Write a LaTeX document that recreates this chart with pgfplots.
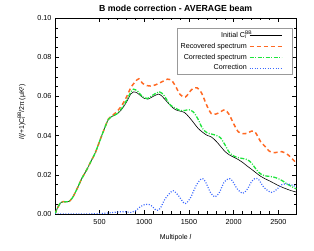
\documentclass[border=0pt]{standalone}
\usepackage{pgfplots}
\pgfplotsset{compat=1.18}
\usepackage{fontspec}
\setmainfont{Liberation Sans}
\definecolor{recred}{RGB}{255,105,35}
\definecolor{corgreen}{RGB}{30,228,60}
\definecolor{corblue}{RGB}{60,105,255}
\begin{document}
\begin{tikzpicture}
\useasboundingbox (0,0) rectangle (314bp,251bp);
\begin{axis}[
  at={(55bp,37bp)}, anchor=south west,
  scale only axis, width=241.3bp, height=196bp,
  xmin=2, xmax=2700, ymin=0, ymax=0.1,
  xtick={500,1000,1500,2000,2500},
  ytick={0,0.02,0.04,0.06,0.08,0.10},
  minor x tick num=4, minor y tick num=3,
  tick align=inside,
  major tick length=4bp, minor tick length=2.5bp,
  tick style={black, line width=0.5pt},
  axis line style={line width=0.6pt},
  /pgf/number format/assume math mode=true,
  /pgf/number format/set thousands separator={},
  yticklabel style={/pgf/number format/fixed, /pgf/number format/fixed zerofill, /pgf/number format/precision=2},
  scaled y ticks=false,
  ticklabel style={font=\fontsize{7.3}{8}\selectfont},
  xticklabel style={yshift=-2bp},
  title={\bfseries B mode correction - AVERAGE beam},
  title style={font=\fontsize{8.8}{10}\selectfont, at={(0.5,1)}, anchor=base, yshift=0.6bp, inner sep=0pt},
  xlabel={Multipole \textit{l}},
  xlabel style={font=\fontsize{7}{8}\selectfont, at={(0.5,0)}, anchor=north, yshift=-16.5bp},
  ylabel={\textit{l}(\textit{l}+1)C\rlap{\textsuperscript{BB}}\textsubscript{\textit{l}}\hspace{0.6em}/2π (μK²)},
  ylabel style={font=\fontsize{7}{8}\selectfont, at={(0,0.52)}, anchor=south, yshift=26bp},
  legend style={at={(0.982,0.95)}, anchor=north east, font=\fontsize{7.2}{8}\selectfont,
    draw=black!40, line width=0.4pt, inner xsep=1.5pt, inner ysep=1.2pt, row sep=0.1pt},
  legend cell align=right,
  legend plot pos=right,
  legend image code/.code={\draw[#1, draw=.] (0bp,0bp) -- (32bp,0bp); \path (40bp,0bp);},
]
\addplot[black, line width=0.6pt, smooth] coordinates {
(2,0) (30,0.003) (60,0.0055) (90,0.0063) (130,0.0062) (160,0.0064) (200,0.0085) (250,0.013) (300,0.018) (350,0.022) (400,0.0265) (450,0.031) (500,0.037) (550,0.043) (600,0.0483) (650,0.050) (700,0.0512) (750,0.0535) (800,0.057) (850,0.0613) (880,0.0623) (920,0.0618) (960,0.0603) (1000,0.059) (1040,0.0586) (1100,0.0600) (1160,0.0612) (1200,0.0600) (1250,0.0575) (1300,0.055) (1350,0.0532) (1400,0.0525) (1450,0.0518) (1500,0.0495) (1550,0.0467) (1600,0.0438) (1650,0.0418) (1700,0.0402) (1750,0.0393) (1800,0.0373) (1850,0.0347) (1900,0.032) (1950,0.0302) (2000,0.029) (2050,0.0278) (2100,0.0263) (2150,0.0245) (2200,0.0228) (2250,0.021) (2300,0.0193) (2350,0.018) (2400,0.0169) (2450,0.0157) (2500,0.0145) (2550,0.0135) (2600,0.0126) (2650,0.0118) (2700,0.0112)
};
\addlegendentry{Initial C\rlap{\textsuperscript{BB}}\textsubscript{\textit{l}}\hspace{0.6em}}
\addplot[recred, line width=1.5pt, dash pattern=on 4bp off 3bp, smooth] coordinates {
(2,0) (30,0.003) (60,0.0055) (90,0.0063) (130,0.0062) (160,0.0064) (200,0.0085) (250,0.013) (300,0.018) (350,0.022) (400,0.0265) (450,0.031) (500,0.037) (550,0.043) (600,0.0485) (650,0.0505) (700,0.0525) (750,0.0555) (800,0.0595) (850,0.0645) (900,0.0675) (940,0.069) (980,0.0667) (1030,0.0655) (1070,0.0653) (1120,0.0658) (1200,0.0675) (1260,0.0688) (1300,0.0685) (1350,0.0652) (1400,0.061) (1460,0.0597) (1530,0.0635) (1590,0.0644) (1640,0.0618) (1700,0.0553) (1750,0.0512) (1800,0.051) (1850,0.052) (1900,0.0532) (1950,0.0507) (2000,0.046) (2050,0.042) (2100,0.041) (2150,0.0412) (2200,0.0423) (2240,0.0418) (2300,0.037) (2350,0.0345) (2400,0.032) (2460,0.0313) (2540,0.0318) (2610,0.0301) (2700,0.026)
};
\addlegendentry{Recovered spectrum}
\addplot[corgreen, line width=1.3pt, dash pattern=on 4bp off 1.5bp on 1bp off 1.5bp, smooth] coordinates {
(2,0) (30,0.003) (60,0.0055) (90,0.0063) (130,0.0062) (160,0.0064) (200,0.0085) (250,0.013) (300,0.018) (350,0.022) (400,0.0265) (450,0.031) (500,0.037) (550,0.043) (600,0.0483) (650,0.050) (700,0.0513) (750,0.054) (800,0.0578) (850,0.0622) (880,0.0637) (930,0.0625) (980,0.0598) (1040,0.059) (1100,0.0608) (1170,0.0623) (1220,0.0605) (1290,0.0557) (1350,0.054) (1400,0.0528) (1450,0.0528) (1500,0.0532) (1550,0.052) (1600,0.0485) (1650,0.0437) (1700,0.0415) (1750,0.0408) (1800,0.0402) (1850,0.039) (1900,0.0355) (1950,0.0315) (2000,0.0296) (2050,0.0288) (2100,0.0283) (2150,0.0278) (2200,0.026) (2250,0.0228) (2300,0.0205) (2350,0.0195) (2400,0.0192) (2450,0.0188) (2500,0.018) (2550,0.0168) (2600,0.0152) (2650,0.014) (2700,0.0128)
};
\addlegendentry{Corrected spectrum}
\addplot[corblue, line width=1.2pt, dash pattern=on 1bp off 1.6bp, smooth] coordinates {
(2,0) (300,0) (500,0.0002) (600,0.0005) (700,0.001) (780,0.0012) (850,0.0008) (900,0.0015) (950,0.0035) (1000,0.0047) (1040,0.005) (1080,0.0042) (1140,0.0018) (1180,0.003) (1230,0.0075) (1300,0.0113) (1330,0.0118) (1380,0.0095) (1440,0.0058) (1470,0.0055) (1520,0.0085) (1580,0.0145) (1640,0.018) (1680,0.0168) (1740,0.011) (1790,0.0087) (1840,0.011) (1890,0.016) (1940,0.018) (1980,0.0172) (2040,0.0128) (2100,0.0105) (2150,0.0125) (2200,0.0165) (2240,0.0182) (2280,0.0175) (2340,0.0135) (2420,0.011) (2480,0.0125) (2540,0.015) (2600,0.0153) (2650,0.0148) (2700,0.014)
};
\addlegendentry{Correction}
\end{axis}
\end{tikzpicture}
\end{document}
